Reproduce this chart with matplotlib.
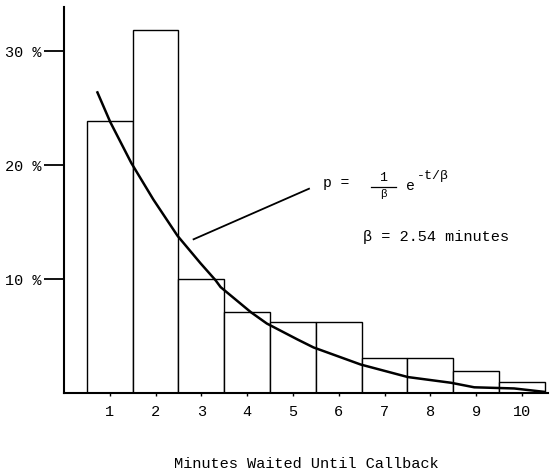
import matplotlib
matplotlib.use('Agg')
import matplotlib.pyplot as plt

plt.rcParams['font.family'] = ['Liberation Mono', 'DejaVu Sans Mono']

# percent of callbacks per minute waited
minutes = [1, 2, 3, 4, 5, 6, 7, 8, 9, 10]
percent = [23.9, 31.9, 10.0, 7.1, 6.2, 6.2, 3.1, 3.1, 1.9, 1.0]

# fitted exponential curve
curve_t = [0.73, 1.01, 1.47, 1.95, 2.48, 2.98, 3.31, 3.42, 4.08, 4.43, 5.1, 5.45,
           6.48, 7.51, 8.45, 8.96, 9.83, 10.49]
curve_p = [26.4, 23.8, 20.2, 17.0, 13.8, 11.4, 9.9, 9.3, 7.1, 6.1, 4.7, 4.0,
           2.5, 1.4, 0.9, 0.5, 0.4, 0.1]

ytick_vals = [10, 20, 30]
ytick_labels = ['10 %', '20 %', '30 %']

fig = plt.figure(figsize=(5.5, 4.71), dpi=100)
ax = fig.add_axes([64 / 550, 1 - 393 / 471, 484 / 550, 386 / 471])

# histogram bars
ax.bar(minutes, percent, width=1.0, facecolor='white', edgecolor='black', linewidth=1.0)

# fitted curve
ax.plot(curve_t, curve_p, color='black', linewidth=1.8)

# leader line + formula
ax.plot([2.83, 5.35], [13.5, 17.94], color='black', linewidth=1.3)
ax.text(5.65, 18.47, 'p =', fontsize=10.5, va='center', ha='left')
ax.text(6.97, 18.85, '1', fontsize=9.5, va='center', ha='center')
ax.plot([6.71, 7.25], [18.12, 18.12], color='black', linewidth=0.9)
ax.text(6.97, 17.5, 'β', fontsize=8, va='center', ha='center')
ax.text(7.47, 18.2, 'e', fontsize=10.5, va='center', ha='left')
ax.text(7.71, 19.08, '-t/β', fontsize=9.5, va='center', ha='left')
ax.text(6.53, 13.72, 'β = 2.54 minutes', fontsize=11, va='center', ha='left')

ax.set_xlim(0, 10.57)
ax.set_ylim(0, 33.9)

ax.spines['top'].set_visible(False)
ax.spines['right'].set_visible(False)
ax.spines['left'].set_linewidth(1.5)
ax.spines['bottom'].set_linewidth(1.5)

ax.set_xticks(minutes)
ax.set_xticklabels([str(m) for m in minutes], fontsize=11)
ax.tick_params(axis='x', length=2, width=1, pad=7)
ax.set_yticks(ytick_vals)
ax.set_yticklabels(ytick_labels, fontsize=11)
ax.tick_params(axis='y', length=14.4, width=1.3, pad=1.5)

ax.set_xlabel('Minutes Waited Until Callback', fontsize=11, labelpad=27)

fig.savefig('out.png', dpi=100)
